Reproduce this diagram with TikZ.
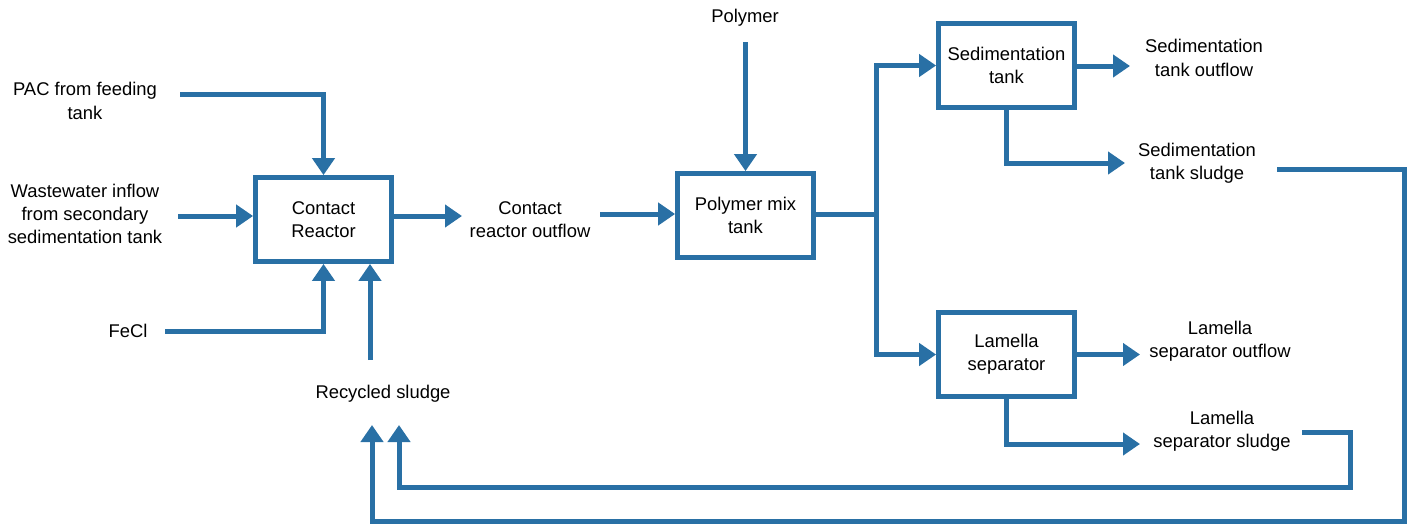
\documentclass[tikz,border=0pt]{standalone}
\usepackage{fontspec}
\setmainfont{Liberation Sans}
\usetikzlibrary{arrows.meta}
\definecolor{flowblue}{RGB}{41,112,165}
\begin{document}
\begin{tikzpicture}[x=0.5pt,y=-0.5pt,
  font=\fontsize{9.2}{11.6}\selectfont,
  box/.style={draw=flowblue, line width=2.4pt, minimum width=68pt, minimum height=42pt, align=center, inner sep=0pt},
  lbl/.style={align=center, inner sep=1pt},
  flow/.style={draw=flowblue, line width=2.5pt, -{Triangle[width=11pt,length=8.5pt]}},
  plain/.style={draw=flowblue, line width=2.5pt}]
\useasboundingbox (0,0) rectangle (1416,525);

% boxes
\node[box] (cr) at (323.5,219.5) {Contact\\Reactor};
\node[box] (pm) at (745.5,215.5) {Polymer mix\\tank};
\node[box] (st) at (1006.5,65.5) {Sedimentation\\tank};
\node[box] (ls) at (1006.5,354.5) {Lamella\\separator};

% labels
\node[lbl] (pac) at (85,101) {PAC from feeding\\tank};
\node[lbl] (ww) at (85,214) {Wastewater inflow\\from secondary\\sedimentation tank};
\node[lbl] (fecl) at (128,331) {FeCl};
\node[lbl] (rs) at (383,394) {Recycled sludge};
\node[lbl] (cro) at (530,220) {Contact\\reactor outflow};
\node[lbl] (poly) at (745,18) {Polymer};
\node[lbl] (sto) at (1204,58) {Sedimentation\\tank outflow};
\node[lbl] (sts) at (1197,163) {Sedimentation\\tank sludge};
\node[lbl] (lso) at (1220,341) {Lamella\\separator outflow};
\node[lbl] (lss) at (1222,431) {Lamella\\separator sludge};

% connector ends
\coordinate (pacS) at (180,94);
\coordinate (wwS) at (178,216);
\coordinate (feS) at (165,331);
\coordinate (rsS) at (370,360);
\coordinate (croE) at (462,216);
\coordinate (croS) at (600,214);
\coordinate (polS) at (745.5,42);
\coordinate (split) at (876,214);
\coordinate (stoE) at (1130,66);
\coordinate (stsE) at (1125,163);
\coordinate (lsoE) at (1140,354.5);
\coordinate (lssE) at (1140,444);
\coordinate (r1S) at (1277,169);
\coordinate (r1A) at (1404,169);
\coordinate (r1B) at (1404,521);
\coordinate (r1T) at (372,425);
\coordinate (r2S) at (1302,432);
\coordinate (r2A) at (1350,432);
\coordinate (r2B) at (1350,487);
\coordinate (r2T) at (399,425);

% connectors
\draw[flow] (pacS) -| (cr.north);
\draw[flow] (wwS) -- (cr.west |- wwS);
\draw[flow] (feS) -| (cr.south);
\draw[flow] (rsS) -- (rsS |- cr.south);
\draw[flow] (cr.east |- croE) -- (croE);
\draw[flow] (croS) -- (pm.west |- croS);
\draw[flow] (polS) -- (pm.north);
\draw[plain] (pm.east |- split) -- (split);
\draw[flow] (split) |- (st.west);
\draw[flow] (split) |- (ls.west);
\draw[flow] (st.east |- stoE) -- (stoE);
\draw[flow] (st.south) |- (stsE);
\draw[flow] (ls.east) -- (lsoE);
\draw[flow] (ls.south) |- (lssE);
\draw[flow] (r1S) -- (r1A) -- (r1B) -| (r1T);
\draw[flow] (r2S) -- (r2A) -- (r2B) -| (r2T);
\end{tikzpicture}
\end{document}
